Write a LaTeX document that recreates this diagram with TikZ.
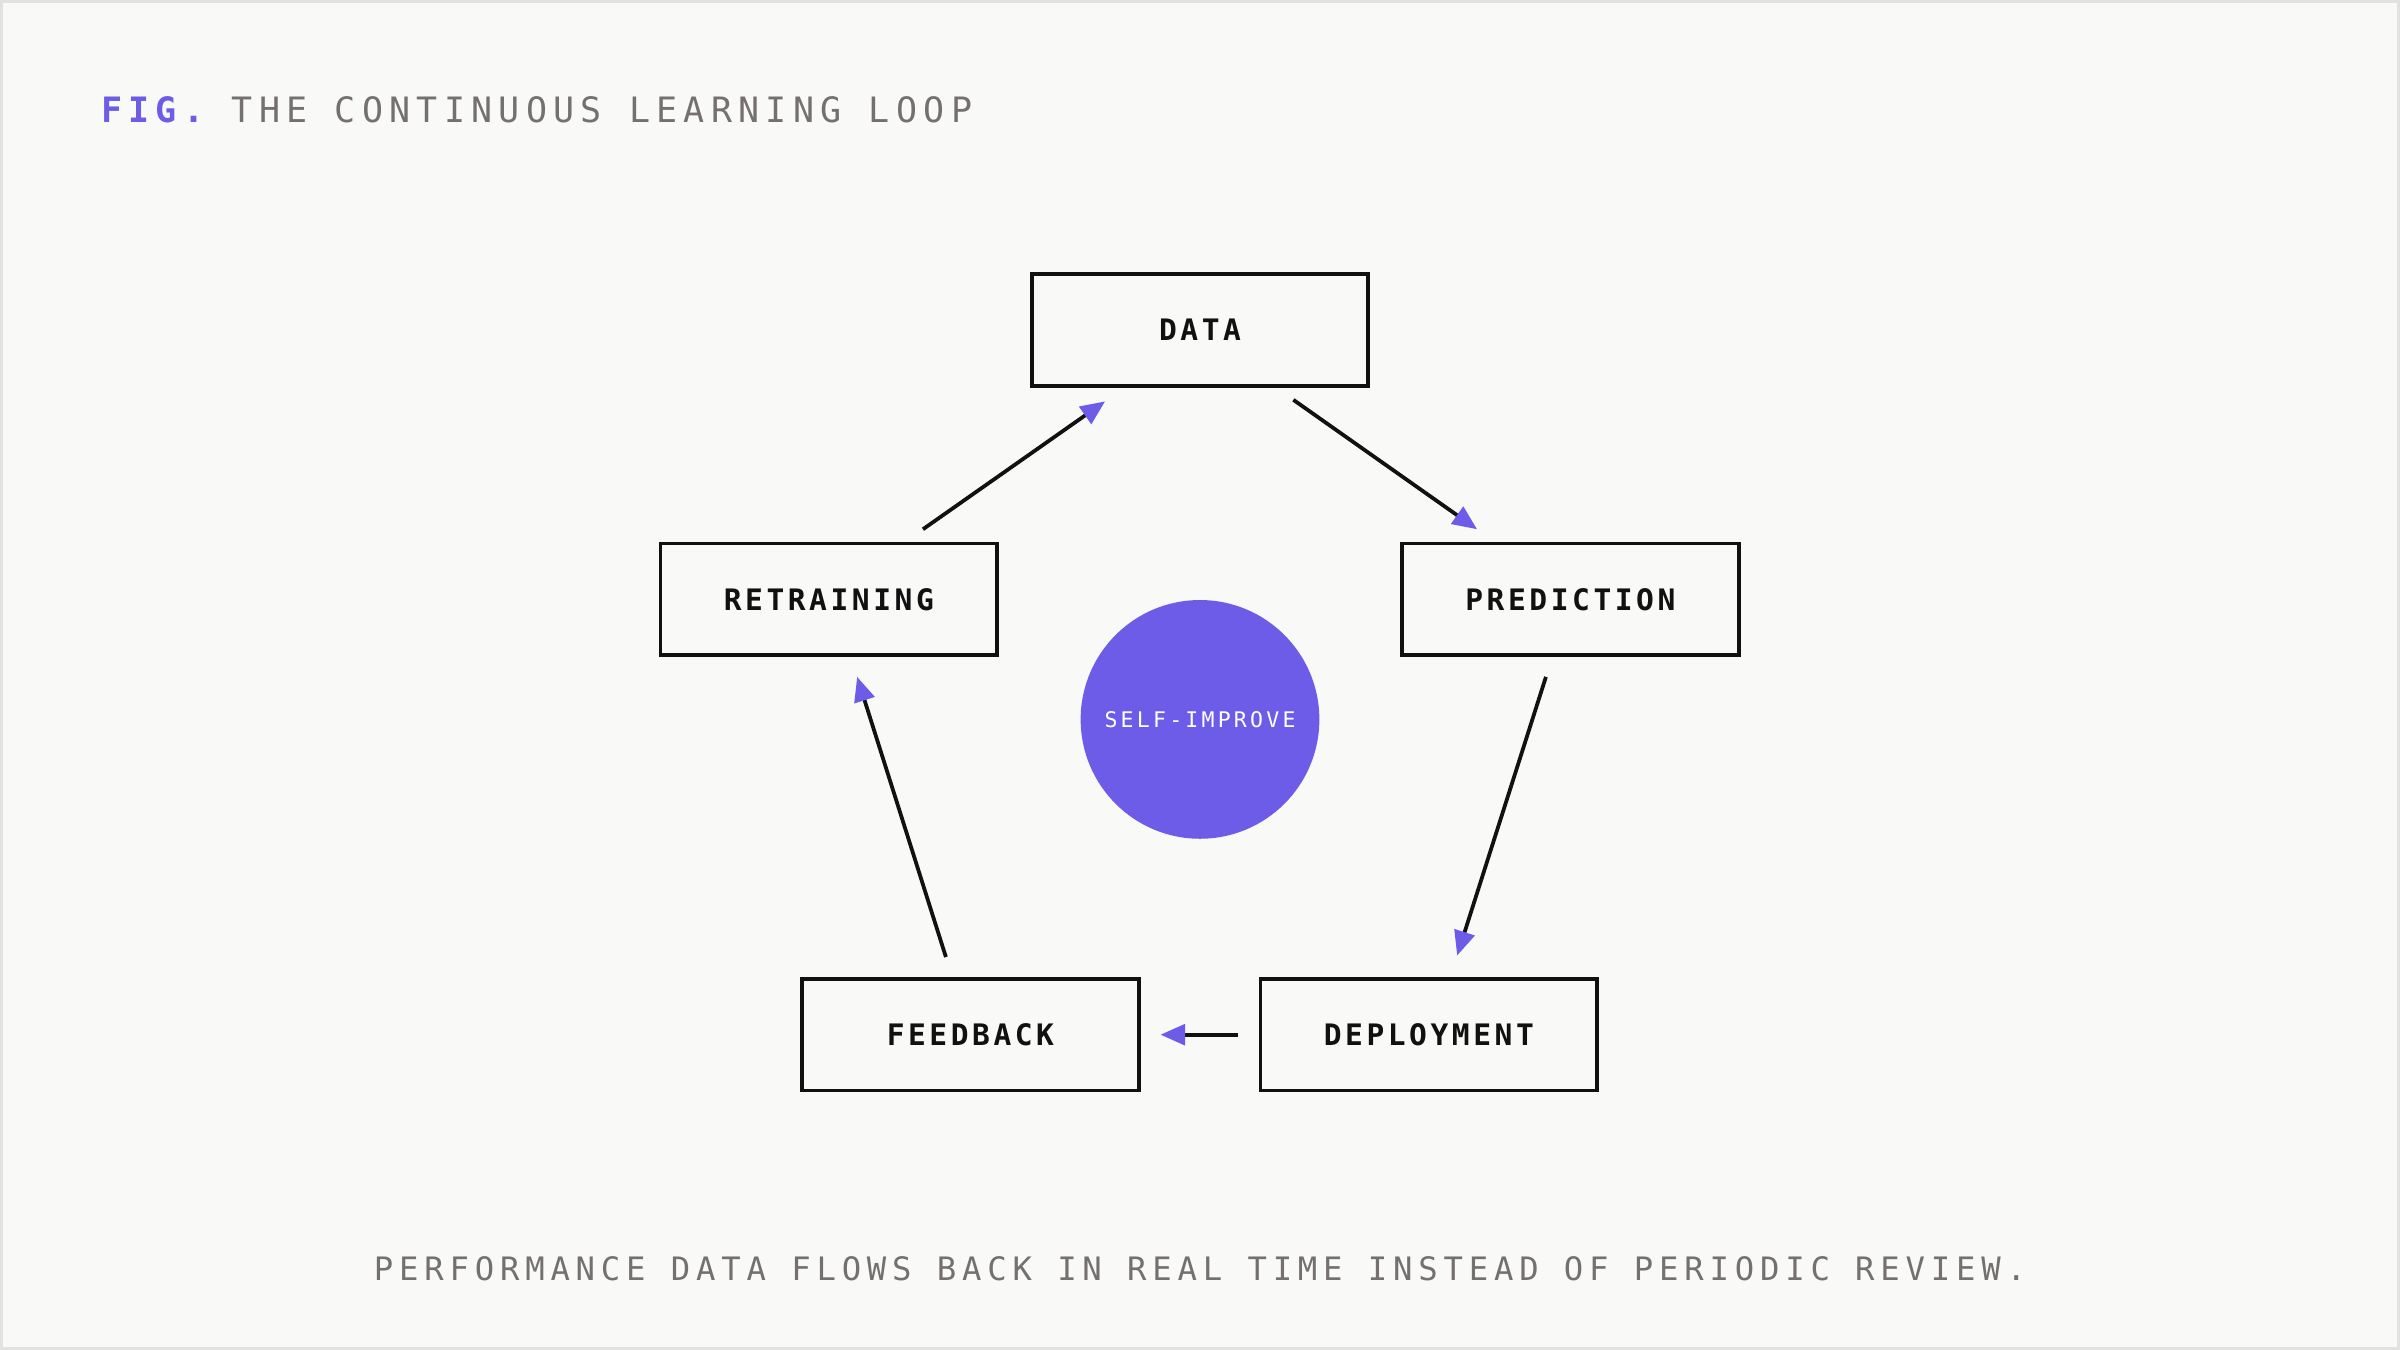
\documentclass[tikz,border=0pt]{standalone}
\usepackage{fontspec}
\setmonofont{DejaVu Sans Mono}
\newfontfamily\boxfont[LetterSpace=12]{DejaVu Sans Mono}
\newfontfamily\titlefont[LetterSpace=18]{DejaVu Sans Mono}
\newfontfamily\tinyfont[LetterSpace=15]{DejaVu Sans Mono}
\usetikzlibrary{arrows.meta,calc}
\definecolor{paper}{HTML}{F9F9F7}
\definecolor{rim}{HTML}{E2E2E0}
\definecolor{accent}{HTML}{6C5CE7}
\definecolor{ink}{HTML}{111111}
\definecolor{muted}{HTML}{757070}
\tikzset{
  stage/.style={draw=ink, line width=1.4pt, fill=paper, minimum width=4.4cm, minimum height=1.46cm,
    font=\boxfont\fontsize{11}{13}\selectfont\bfseries, text=ink},
  flow/.style={draw=ink, line width=1.4pt,
    -{Triangle[length=0.32cm,width=0.27cm,color=accent]}},
}
\begin{document}
\begin{tikzpicture}[x=0.02cm, y=-0.02cm]
  \useasboundingbox (0,0) rectangle (1568,882);
  \fill[paper] (0,0) rectangle (1568,882);
  \draw[rim, line width=1.2pt] (1,1) rectangle (1567,881);

  \node[anchor=west, font=\titlefont\fontsize{13}{15}\selectfont, text=muted] (title) at (60,72)
    {\textcolor{accent}{\bfseries FIG.} THE CONTINUOUS LEARNING LOOP};

  \node[stage] (data) at (784,215.5) {DATA};
  \node[stage] (retraining) at (541.5,391.5) {RETRAINING};
  \node[stage] (prediction) at (1026,391.5) {PREDICTION};
  \node[stage] (feedback) at (634,676) {FEEDBACK};
  \node[stage] (deployment) at (933.5,676) {DEPLOYMENT};

  \node[circle, fill=accent, minimum size=3.12cm, text=white,
    font=\tinyfont\fontsize{8}{10}\selectfont] (core) at (784,470) {SELF-IMPROVE};

  \draw[flow] ($(retraining.north)+(61.5,-8)$) -- ($(data.south)+(-62,9)$);
  \draw[flow] ($(data.south)+(61,8)$) -- ($(prediction.north)+(-61,-8)$);
  \draw[flow] ($(prediction.south)+(-16,13)$) -- ($(deployment.north)+(18.5,-14)$);
  \draw[flow] ($(deployment.west)+(-13.5,0)$) -- ($(feedback.east)+(13,0)$);
  \draw[flow] ($(feedback.north)+(-16,-13)$) -- ($(retraining.south)+(18.5,13)$);

  \node[font=\titlefont\fontsize{12}{14}\selectfont, text=muted] (note) at (784,829)
    {PERFORMANCE DATA FLOWS BACK IN REAL TIME INSTEAD OF PERIODIC REVIEW.};
\end{tikzpicture}
\end{document}
